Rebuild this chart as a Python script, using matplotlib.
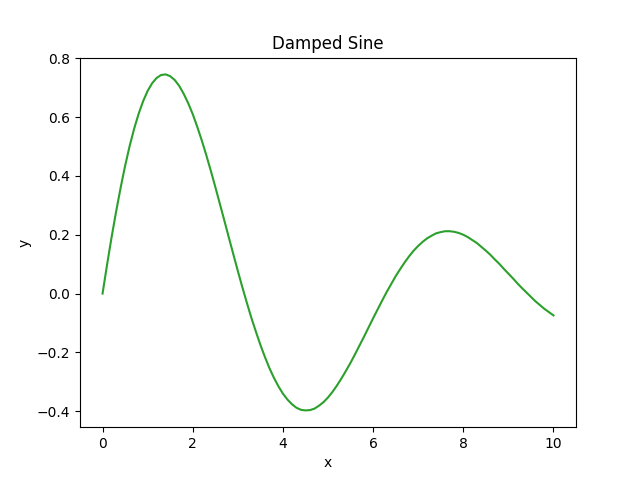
import matplotlib
matplotlib.use("Agg")
import matplotlib.pyplot as plt

x_values = [0.0, 0.1, 0.2, 0.3, 0.4, 0.5, 0.6, 0.7, 0.8, 0.9,
            1.0, 1.1, 1.2, 1.3, 1.4, 1.5, 1.6, 1.7, 1.8, 1.9,
            2.0, 2.1, 2.2, 2.3, 2.4, 2.5, 2.6, 2.7, 2.8, 2.9,
            3.0, 3.1, 3.2, 3.3, 3.4, 3.5, 3.6, 3.7, 3.8, 3.9,
            4.0, 4.1, 4.2, 4.3, 4.4, 4.5, 4.6, 4.7, 4.8, 4.9,
            5.0, 5.1, 5.2, 5.3, 5.4, 5.5, 5.6, 5.7, 5.8, 5.9,
            6.0, 6.1, 6.2, 6.3, 6.4, 6.5, 6.6, 6.7, 6.8, 6.9,
            7.0, 7.1, 7.2, 7.3, 7.4, 7.5, 7.6, 7.7, 7.8, 7.9,
            8.0, 8.1, 8.2, 8.3, 8.4, 8.5, 8.6, 8.7, 8.8, 8.9,
            9.0, 9.1, 9.2, 9.3, 9.4, 9.5, 9.6, 9.7, 9.8, 9.9, 10.0]
y_values = [0.0, 0.098, 0.191, 0.278, 0.359, 0.434, 0.501, 0.560, 0.611, 0.654,
            0.689, 0.715, 0.733, 0.743, 0.745, 0.739, 0.726, 0.706, 0.679, 0.647,
            0.610, 0.567, 0.521, 0.471, 0.418, 0.363, 0.306, 0.249, 0.191, 0.134,
            0.077, 0.022, -0.031, -0.082, -0.129, -0.174, -0.215, -0.253, -0.286, -0.315,
            -0.340, -0.360, -0.376, -0.388, -0.395, -0.397, -0.396, -0.391, -0.381, -0.369,
            -0.353, -0.334, -0.312, -0.288, -0.262, -0.235, -0.206, -0.176, -0.146, -0.115,
            -0.084, -0.054, -0.024, 0.005, 0.032, 0.059, 0.083, 0.106, 0.127, 0.146,
            0.162, 0.176, 0.188, 0.197, 0.205, 0.209, 0.212, 0.212, 0.210, 0.206,
            0.200, 0.192, 0.182, 0.172, 0.159, 0.146, 0.132, 0.116, 0.101, 0.084,
            0.068, 0.052, 0.035, 0.019, 0.004, -0.011, -0.026, -0.039, -0.052, -0.063, -0.074]

fig, ax = plt.subplots(figsize=(6.4, 4.8), dpi=100)
ax.plot(x_values, y_values, color="#2ca02c")
ax.set_title("Damped Sine")
ax.set_xlabel("x")
ax.set_ylabel("y")
fig.savefig("out.png")
